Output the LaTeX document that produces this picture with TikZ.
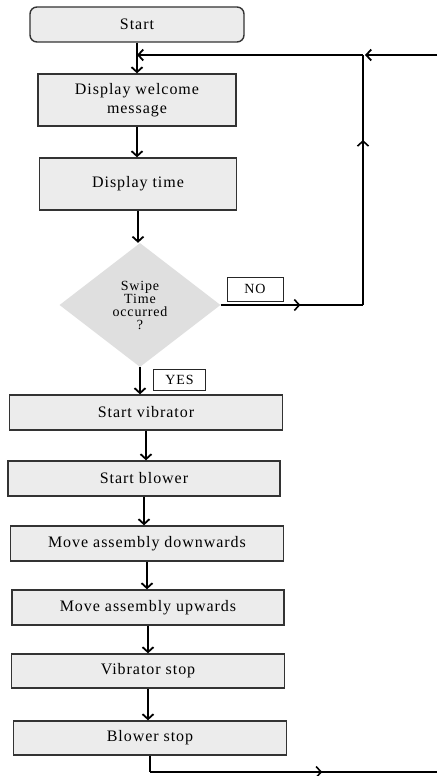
\documentclass[tikz,border=0pt]{standalone}
\usepackage{fontspec}
\setmainfont[LetterSpace=6]{Liberation Serif}
\usepackage{tikz}
\usetikzlibrary{arrows.meta, positioning, shapes.geometric, decorations.markings}

\begin{document}
\begin{tikzpicture}[x=1pt, y=-1pt,
    box/.style={draw=black!80, line width=1.4pt, fill=gray!15, minimum height=35pt, font=\fontsize{16}{19}\selectfont, align=center, inner sep=2pt},
    startbox/.style={box, rounded corners=7pt},
    decision/.style={diamond, fill=gray!25, minimum width=161pt, minimum height=124pt, inner sep=1pt, font=\fontsize{14}{13}\selectfont, align=center},
    tag/.style={draw=black!85, line width=1pt, fill=white, font=\fontsize{14}{15}\selectfont, inner sep=2pt},
    arr/.style={line width=2pt, -{Straight Barb[length=5pt, width=11pt, line width=1.8pt]}},
    flow/.style={line width=1.6pt},
    midarr/.style={flow, decoration={markings, mark=at position #1 with {\arrow{Straight Barb[length=5pt, width=11pt, line width=1.6pt]}}}, postaction={decorate}}
]
    \useasboundingbox (0,0) rectangle (437,776);

    % Top of the chart
    \node[startbox, minimum width=214pt] (start) at (137,24.5) {Start};
    \node[box, minimum width=198pt, minimum height=52pt] (welcome) at (137,100) {Display welcome\\message};
    \node[box, minimum width=197pt, minimum height=52pt] (dtime) at (138,184) {Display time};

    % Decision
    \node[decision] (swipe) at (140,305) {Swipe\\Time\\occurred\\?};
    \node[tag, minimum width=56pt, minimum height=24pt] (no) at (255,289) {NO};
    \node[tag, minimum width=52pt, minimum height=21pt] (yes) at (179.5,379.5) {YES};

    % Cleaning steps
    \node[box, minimum width=273pt] (svib) at (146,412.5) {Start vibrator};
    \node[box, minimum width=272pt] (sblow) at (144,478.5) {Start blower};
    \node[box, minimum width=273pt] (mdown) at (147,543.5) {Move assembly downwards};
    \node[box, minimum width=272pt] (mup) at (148,607.5) {Move assembly upwards};
    \node[box, minimum width=273pt, minimum height=34pt] (vstop) at (148,671) {Vibrator stop};
    \node[box, minimum width=273pt, minimum height=34pt] (bstop) at (150,738) {Blower stop};

    % Loop points
    \coordinate (rtop) at (437,55);
    \coordinate (merge) at (363,55);
    \coordinate (loopin) at (start.south |- merge);
    \coordinate (nocorner) at (363,305);
    \coordinate (bend) at (bstop.south |- 0,772);
    \coordinate (rbot) at (437,772);

    % Main flow
    \draw[arr] (start.south) -- (start.south |- welcome.north);
    \draw[arr] (welcome.south) -- (welcome.south |- dtime.north);
    \draw[arr] (dtime.south) -- (dtime.south |- swipe.north);
    \draw[arr] (swipe.south) -- (swipe.south |- svib.north);
    \draw[arr] (svib.south) -- (svib.south |- sblow.north);
    \draw[arr] (sblow.south) -- (sblow.south |- mdown.north);
    \draw[arr] (mdown.south) -- (mdown.south |- mup.north);
    \draw[arr] (mup.south) -- (mup.south |- vstop.north);
    \draw[arr] (vstop.south) -- (vstop.south |- bstop.north);

    % NO branch back to the top
    \draw[midarr=0.56] (swipe.east) -- (nocorner);
    \draw[midarr=0.66] (nocorner) -- (merge);
    \draw[arr, line width=1.6pt] (rtop) -- ([xshift=2pt]merge);
    \draw[arr, line width=1.6pt] (merge) -- (loopin);

    % Out at the bottom
    \draw[flow] (bstop.south) -- (bend);
    \draw[midarr=0.6] (bend) -- (rbot);

\end{tikzpicture}
\end{document}
